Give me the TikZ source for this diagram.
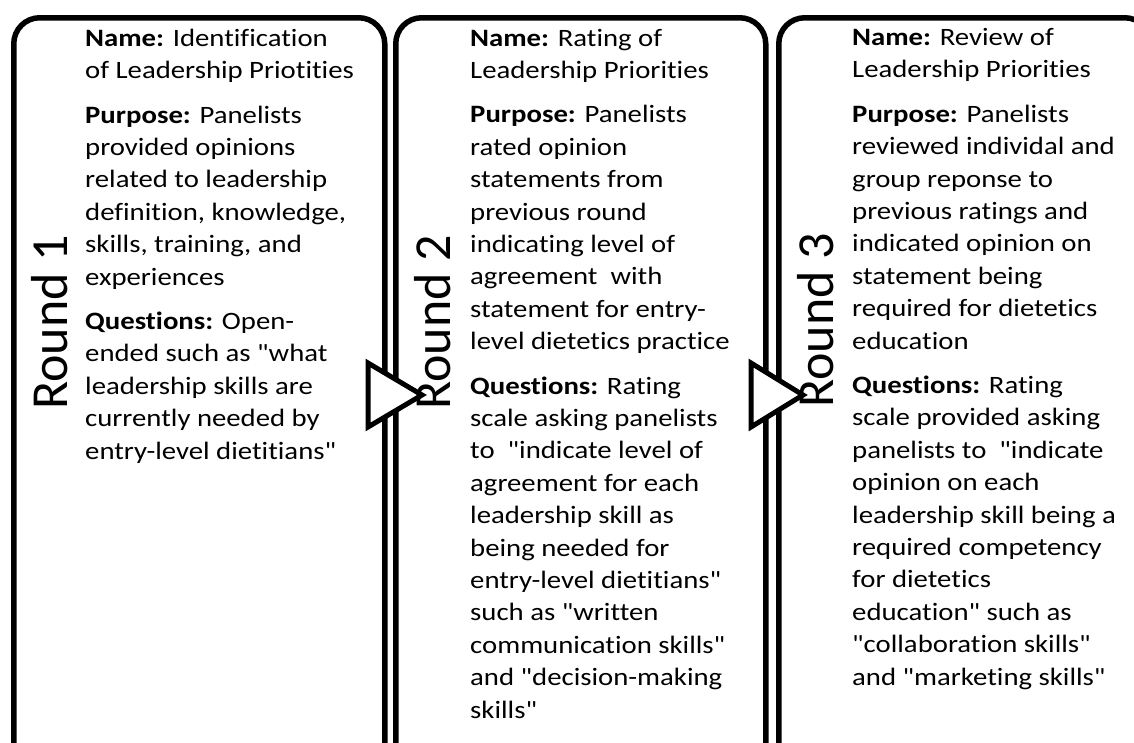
\documentclass[tikz,border=0pt]{standalone}
\usepackage{fontspec}
\setmainfont{Carlito}[FakeStretch=1.15, Ligatures={TeXOff,NoCommon}]
\newfontfamily\roundfont{Carlito}
\usetikzlibrary{positioning}

\tikzset{
    roundbox/.style={draw, line width=5.5pt, rounded corners=26pt,
        minimum height=760pt, anchor=north west, inner sep=0pt},
    % anchored at the baseline of the last line
    boxtext/.style={anchor=base west, align=left, inner sep=0pt,
        font=\fontsize{25}{32.4}\selectfont},
    roundlabel/.style={rotate=90, anchor=base west, inner sep=0pt,
        font=\roundfont\fontsize{52}{60}\selectfont},
    steparrow/.style={draw, fill=white, line width=5pt}
}

\begin{document}
\begin{tikzpicture}[x=1pt, y=-1pt]
    \clip (0,0) rectangle (1134,742);

    % the three rounds
    \node[roundbox, minimum width=371pt] (box1) at (11,15) {};
    \node[roundbox, minimum width=370pt] (box2) at (393,15) {};
    \node[roundbox, minimum width=372pt] (box3) at (776,15) {};

    % arrows from one round to the next
    \coordinate (a1top) at (368,363);
    \coordinate (a1tip) at (422,395);
    \coordinate (a1bot) at (368,427);
    \draw[steparrow] (a1top) -- (a1tip) -- (a1bot) -- cycle;
    \coordinate (a2top) at (751,363);
    \coordinate (a2tip) at (803,395);
    \coordinate (a2bot) at (751,427);
    \draw[steparrow] (a2top) -- (a2tip) -- (a2bot) -- cycle;

    \node[roundlabel] (r1) at (67,410) {Round 1};
    \node[roundlabel] (r2) at (450,410) {Round 2};
    \node[roundlabel] (r3) at (833,408) {Round 3};

    \node[boxtext] (text1) at (85,459) {%
        \textbf{Name:} Identification\\
        of Leadership Priotities\\[12pt]
        \textbf{Purpose:} Panelists\\
        provided opinions\\
        related to leadership\\
        definition, knowledge,\\
        skills, training, and\\
        experiences\\[12pt]
        \textbf{Questions:} Open-\\
        ended such as "what\\
        leadership skills are\\
        currently needed by\\
        entry-level dietitians"};

    \node[boxtext] (text2) at (470,718) {%
        \textbf{Name:} Rating of\\
        Leadership Priorities\\[12pt]
        \textbf{Purpose:} Panelists\\
        rated opinion\\
        statements from\\
        previous round\\
        indicating level of\\
        agreement\ \ with\\
        statement for entry-\\
        level dietetics practice\\[12pt]
        \textbf{Questions:} Rating\\
        scale asking panelists\\
        to\ \ "indicate level of\\
        agreement for each\\
        leadership skill as\\
        being needed for\\
        entry-level dietitians"\\
        such as "written\\
        communication skills"\\
        and "decision-making\\
        skills"};

    \node[boxtext] (text3) at (852,685) {%
        \textbf{Name:} Review of\\
        Leadership Priorities\\[12pt]
        \textbf{Purpose:} Panelists\\
        reviewed individal and\\
        group reponse to\\
        previous ratings and\\
        indicated opinion on\\
        statement being\\
        required for dietetics\\
        education\\[12pt]
        \textbf{Questions:} Rating\\
        scale provided asking\\
        panelists to\ \ "indicate\\
        opinion on each\\
        leadership skill being a\\
        required competency\\
        for dietetics\\
        education" such as\\
        "collaboration skills"\\
        and "marketing skills"};
\end{tikzpicture}
\end{document}
